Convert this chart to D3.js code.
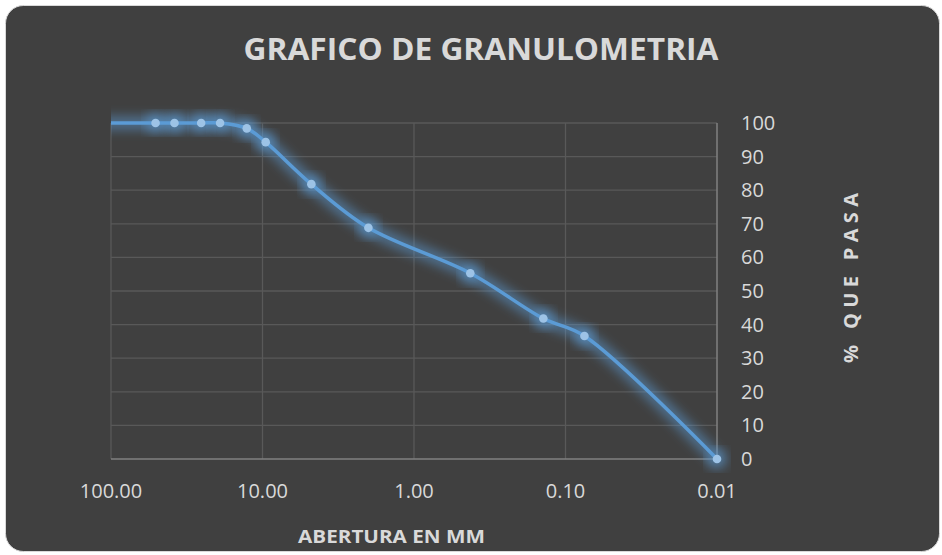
<!DOCTYPE html>
<html><head><meta charset="utf-8">
<script src="https://cdn.jsdelivr.net/npm/d3@7"></script>
<style>html,body{margin:0;padding:0;background:#fff;}svg{display:block;}</style>
</head><body>
<svg id="c" width="942" height="555"></svg>
<script>
const title = "GRAFICO DE GRANULOMETRIA";
const xTitle = "ABERTURA EN MM";
const yTitle = "% QUE PASA";
const sizes = [127, 50.8, 38.1, 25.4, 19.05, 12.7, 9.525, 4.76, 2.0, 0.425, 0.14, 0.075, 0.01];
const passing = [100, 100, 100, 100, 100, 98.4, 94.3, 81.8, 68.8, 55.3, 41.8, 36.6, 0];
const xTicks = [100, 10, 1, 0.1, 0.01];
const yTicks = [0,10,20,30,40,50,60,70,80,90,100];

const data = sizes.map((s,i)=>({x:s,y:passing[i]}));
const svg = d3.select("#c");
const W=942,H=555;
const m = {left:111, right:717, top:123, bottom:459};
const font = "'Open Sans', sans-serif";
const txt = "#d9d9d9";

svg.append("rect").attr("x",5.5).attr("y",5.5).attr("width",W-8).attr("height",H-9)
  .attr("rx",18).attr("fill","#404040").attr("stroke","#d9d9d9").attr("stroke-width",1);

const defs = svg.append("defs");
const f = defs.append("filter").attr("id","glow").attr("x","-20%").attr("y","-20%").attr("width","140%").attr("height","140%");
f.append("feGaussianBlur").attr("in","SourceGraphic").attr("stdDeviation",6).attr("result","b");
f.append("feComponentTransfer").attr("in","b").attr("result","b2")
  .append("feFuncA").attr("type","linear").attr("slope",0.6);
const mg = f.append("feMerge");
mg.append("feMergeNode").attr("in","b2");
defs.append("clipPath").attr("id","clip").append("rect")
  .attr("x",m.left).attr("y",m.top-20).attr("width",m.right-m.left+20).attr("height",m.bottom-m.top+40);

const x = d3.scaleLog().domain([100,0.01]).range([m.left,m.right]);
const y = d3.scaleLinear().domain([0,100]).range([m.bottom,m.top]);

// grid
const g = svg.append("g");
g.selectAll(".hg").data(yTicks.filter(t=>t>0)).join("line")
  .attr("x1",m.left).attr("x2",m.right).attr("y1",d=>y(d)).attr("y2",d=>y(d))
  .attr("stroke","#595959").attr("stroke-width",1.3);
g.selectAll(".vg").data(xTicks.slice(0,4)).join("line")
  .attr("x1",d=>x(d)).attr("x2",d=>x(d)).attr("y1",m.top).attr("y2",m.bottom)
  .attr("stroke","#595959").attr("stroke-width",1.3);
g.append("line").attr("x1",m.left).attr("x2",m.right).attr("y1",m.bottom).attr("y2",m.bottom)
  .attr("stroke","#808080").attr("stroke-width",1.5);
g.append("line").attr("x1",m.right).attr("x2",m.right).attr("y1",m.top).attr("y2",m.bottom)
  .attr("stroke","#808080").attr("stroke-width",1.5);

// tick labels
svg.append("g").selectAll("text").data(xTicks).join("text")
  .attr("x",d=>x(d)).attr("y",498).attr("text-anchor","middle")
  .attr("fill",txt).attr("font-family",font).attr("font-size",20)
  .text(d=>d3.format(".2f")(d));
svg.append("g").selectAll("text").data(yTicks).join("text")
  .attr("x",741).attr("y",d=>y(d)+7).attr("text-anchor","start")
  .attr("fill",txt).attr("font-family",font).attr("font-size",20)
  .text(d=>d);

// titles
svg.append("text").attr("x",481).attr("y",60).attr("text-anchor","middle")
  .attr("fill",txt).attr("font-family",font).attr("font-weight","bold").attr("font-size",30.5)
  .attr("textLength",475).attr("lengthAdjust","spacingAndGlyphs")
  .text(title);
svg.append("text").attr("x",391.5).attr("y",543).attr("text-anchor","middle")
  .attr("fill",txt).attr("font-family",font).attr("font-weight","bold").attr("font-size",18.5)
  .attr("textLength",187).attr("lengthAdjust","spacingAndGlyphs")
  .text(xTitle);
svg.append("text").attr("transform","translate(858,278) rotate(-90)").attr("text-anchor","middle")
  .attr("fill",txt).attr("font-family",font).attr("font-weight","bold").attr("font-size",20)
  .attr("textLength",170).attr("lengthAdjust","spacing")
  .text(yTitle);

// series
const line = d3.line().x(d=>x(d.x)).y(d=>y(d.y)).curve(d3.curveCatmullRom.alpha(0.5));
const s = svg.append("g").attr("clip-path","url(#clip)");
s.append("path").datum(data).attr("d",line).attr("fill","none")
  .attr("stroke","#5b9bd5").attr("stroke-width",12).attr("filter","url(#glow)");
s.selectAll(".gd").data(data).join("circle").attr("cx",d=>x(d.x)).attr("cy",d=>y(d.y))
  .attr("r",10).attr("fill","#5b9bd5").attr("filter","url(#glow)");
s.append("path").datum(data).attr("d",line).attr("fill","none")
  .attr("stroke","#5b9bd5").attr("stroke-width",3.5);
s.selectAll(".pt").data(data).join("circle").attr("cx",d=>x(d.x)).attr("cy",d=>y(d.y))
  .attr("r",4.3).attr("fill","#9dc3e6");
</script>
</body></html>
